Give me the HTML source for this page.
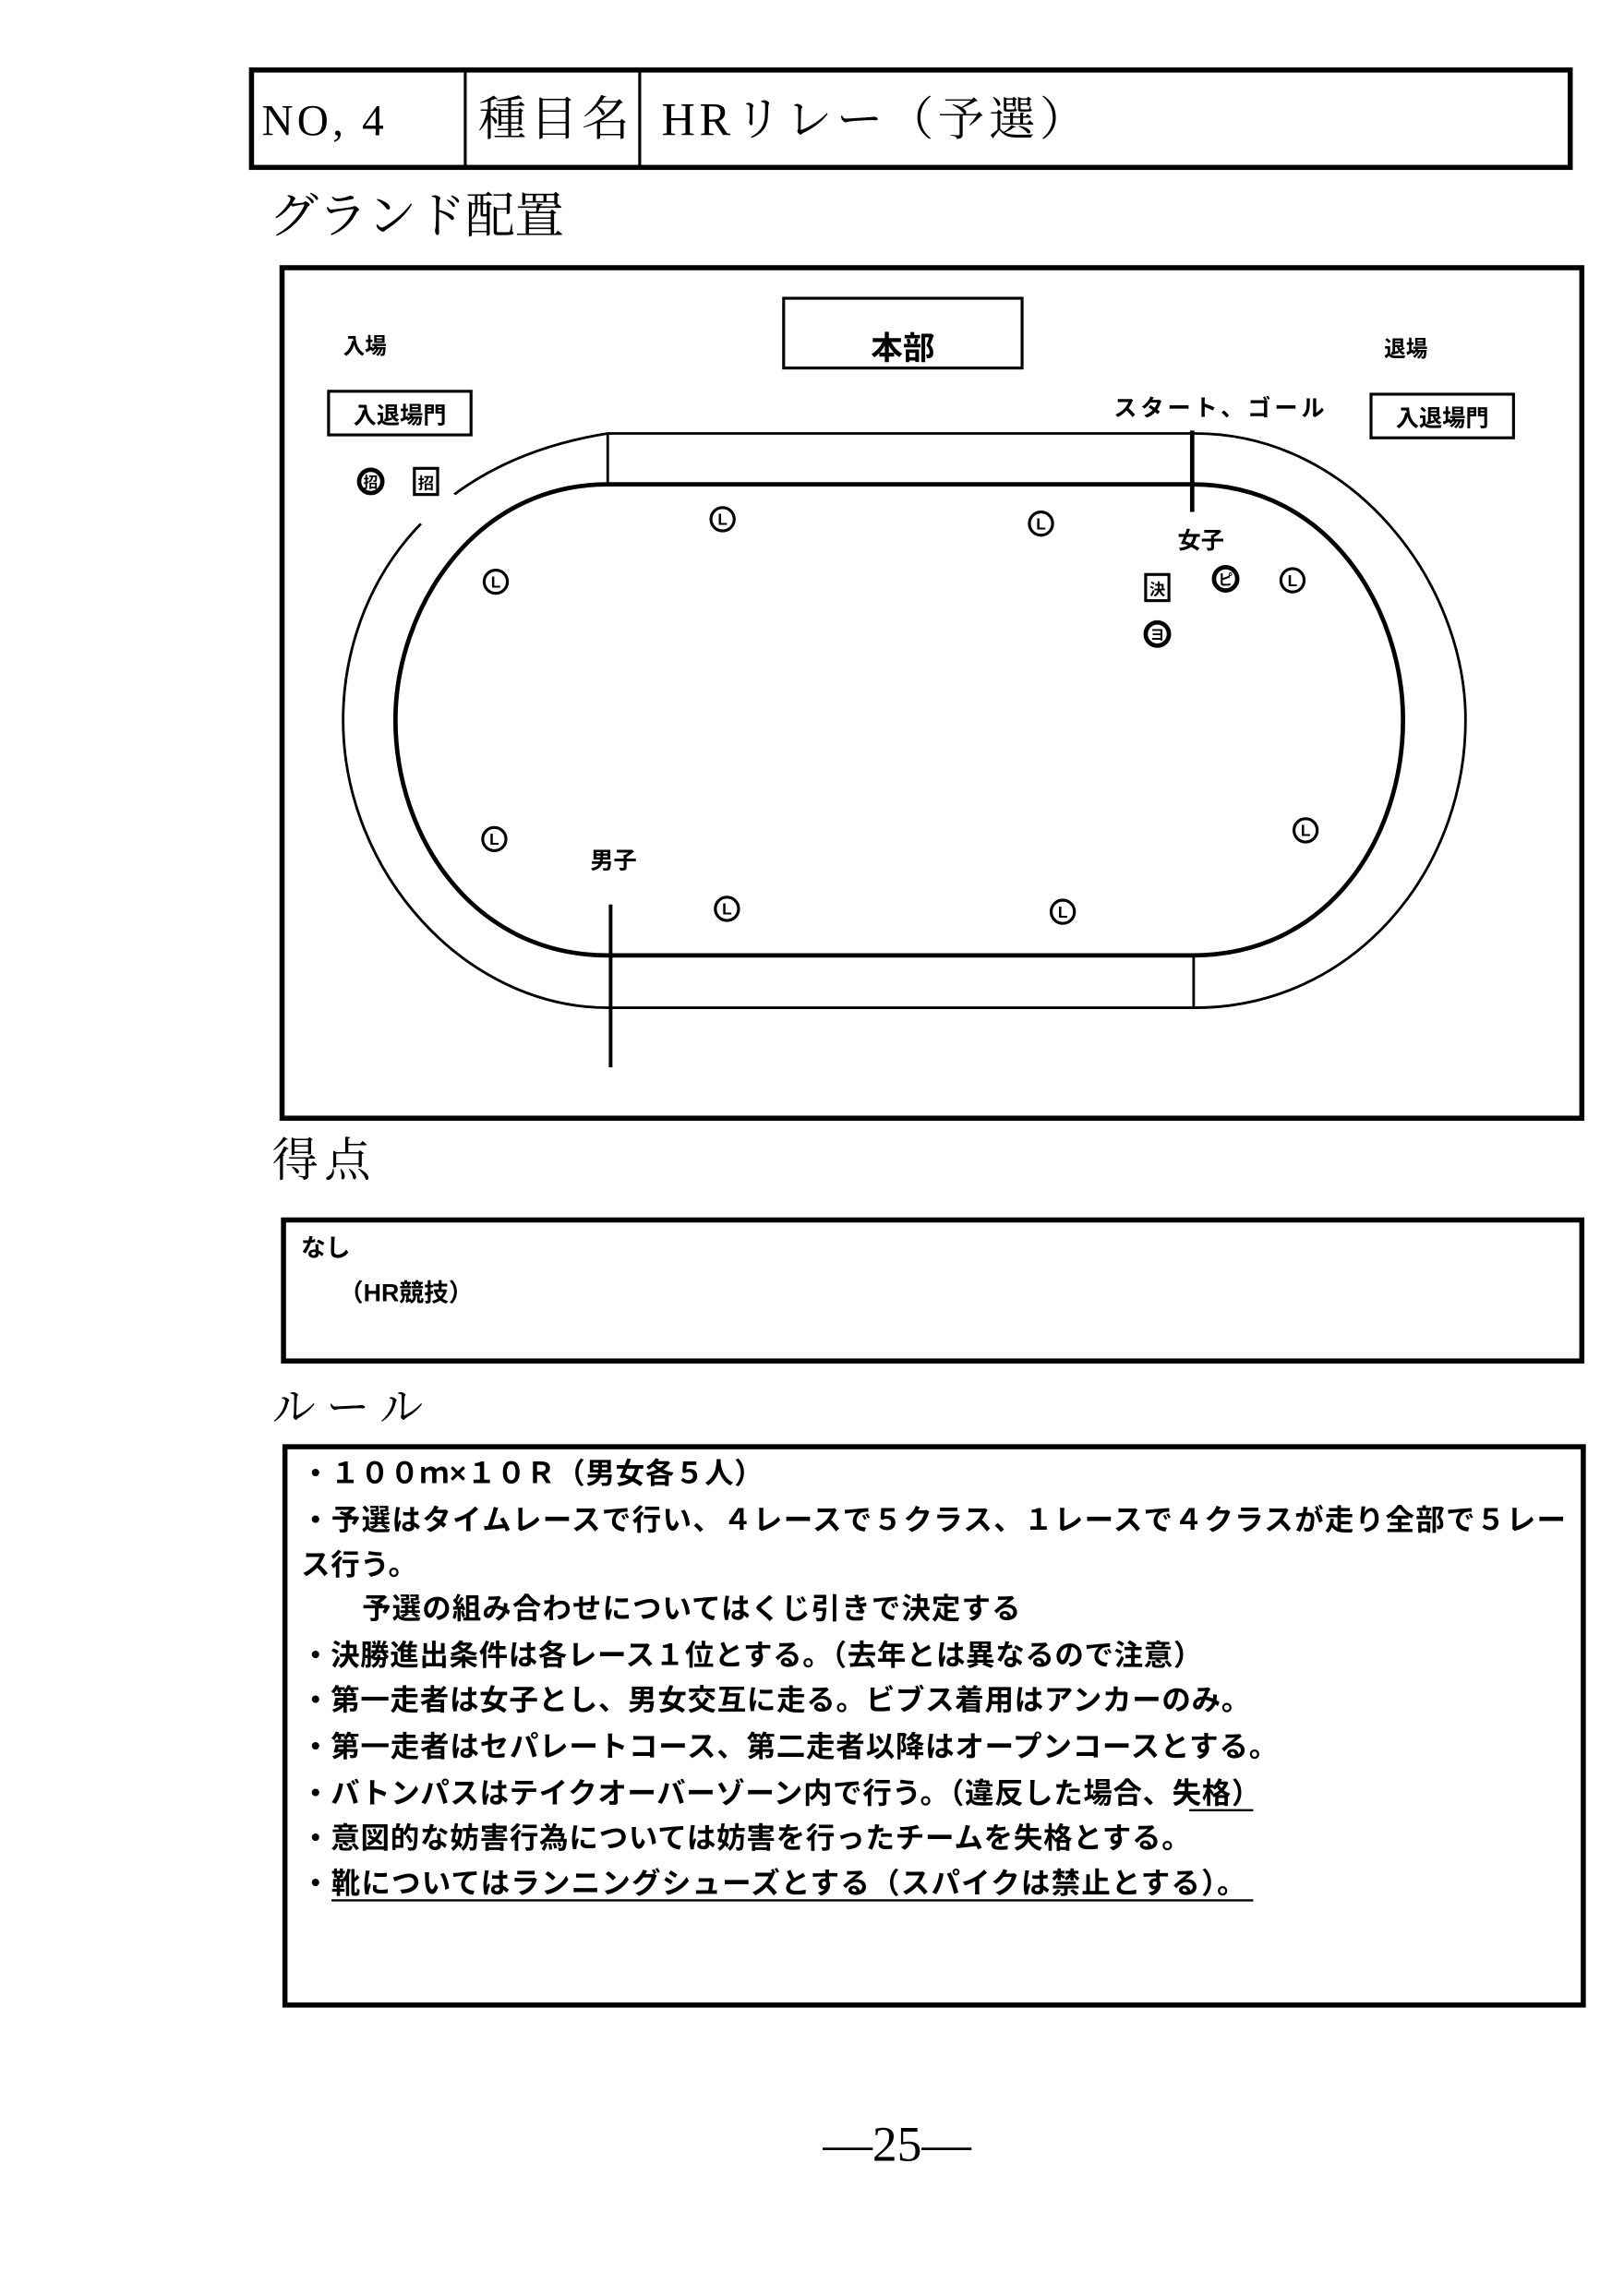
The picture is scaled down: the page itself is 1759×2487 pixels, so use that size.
<!DOCTYPE html>
<html><head><meta charset="utf-8">
<style>
html,body{margin:0;padding:0;background:#fff;}
svg{display:block;}
.g{font-family:"Liberation Sans","Noto Sans CJK JP",sans-serif;font-weight:bold;}
.m{font-family:"Liberation Serif","Noto Serif CJK SC",serif;}
</style></head>
<body>
<svg width="1759" height="2487" viewBox="0 0 1117 1579" xmlns="http://www.w3.org/2000/svg">
<rect x="0" y="0" width="1117" height="1579" fill="#fff"/>
<rect x="173" y="48" width="907" height="67" fill="none" stroke="#000" stroke-width="3.5"/>
<line x1="320" y1="48" x2="320" y2="115" stroke="#000" stroke-width="2"/>
<line x1="440" y1="48" x2="440" y2="115" stroke="#000" stroke-width="2"/>
<text x="180" y="93" class="m" font-size="30" textLength="84">NO, 4</text>
<text x="329" y="93" class="m" font-size="33" textLength="104">種目名</text>
<text x="455" y="93" class="m" font-size="32" textLength="292">HRリレー（予選）</text>
<text x="185" y="160" class="m" font-size="34" textLength="203">グランド配置</text>
<rect x="194" y="184" width="894" height="585" fill="none" stroke="#000" stroke-width="3.5"/>
<rect x="539" y="205" width="164" height="48" fill="none" stroke="#000" stroke-width="2"/>
<text x="621" y="247" class="g" font-size="22" text-anchor="middle">本部</text>
<text x="236" y="243" class="g" font-size="15">入場</text>
<text x="952" y="245" class="g" font-size="15">退場</text>
<rect x="226" y="269" width="98" height="30" fill="none" stroke="#000" stroke-width="2"/>
<text x="275" y="291" class="g" font-size="16" text-anchor="middle">入退場門</text>
<rect x="943" y="271" width="98" height="30" fill="none" stroke="#000" stroke-width="2"/>
<text x="992" y="293" class="g" font-size="16" text-anchor="middle">入退場門</text>
<text x="766" y="286" class="g" font-size="16" textLength="145">スタート、ゴール</text>
<path d="M418,298 L822,298 C930,298 1008,400 1008,495 C1008,600 930,693 822,693 L418,693 C320,693 236,600 236,495 C236,420 280,320 418,298 Z" fill="none" stroke="#000" stroke-width="1.8"/>
<path d="M310,338 L292,362" stroke="#fff" stroke-width="10"/>
<path d="M418,333 L820,333 C915,333 965,420 965,495 C965,575 915,657 820,657 L418,657 C325,657 272,575 272,495 C272,420 325,333 418,333 Z" fill="none" stroke="#000" stroke-width="3"/>
<line x1="418" y1="298" x2="418" y2="333" stroke="#000" stroke-width="1.8"/>
<line x1="820" y1="296" x2="820" y2="352" stroke="#000" stroke-width="3"/>
<line x1="821" y1="657" x2="821" y2="693" stroke="#000" stroke-width="1.8"/>
<line x1="420" y1="622" x2="420" y2="734" stroke="#000" stroke-width="2.5"/>
<text x="826" y="377" class="g" font-size="16" text-anchor="middle">女子</text>
<text x="422" y="597" class="g" font-size="16" text-anchor="middle">男子</text>
<g fill="none" stroke="#000" stroke-width="2">
<circle cx="497" cy="357" r="8"/><circle cx="716" cy="360" r="8"/><circle cx="341" cy="400" r="8"/>
<circle cx="889" cy="399" r="8"/><circle cx="340" cy="577" r="8"/><circle cx="898" cy="571" r="8"/>
<circle cx="500" cy="625" r="8"/><circle cx="731" cy="627" r="8"/>
</g>
<g class="g" font-size="11" text-anchor="middle">
<text x="497" y="361">L</text><text x="716" y="364">L</text><text x="341" y="404">L</text>
<text x="889" y="403">L</text><text x="340" y="581">L</text><text x="898" y="575">L</text>
<text x="500" y="629">L</text><text x="731" y="631">L</text>
</g>
<circle cx="843" cy="398" r="8" fill="none" stroke="#000" stroke-width="3"/>
<text x="843" y="402" class="g" font-size="10" text-anchor="middle">ピ</text>
<circle cx="796" cy="436" r="8" fill="none" stroke="#000" stroke-width="3"/>
<text x="796" y="440" class="g" font-size="10" text-anchor="middle">ヨ</text>
<rect x="788" y="395" width="16" height="18" fill="none" stroke="#000" stroke-width="2"/>
<text x="796" y="409" class="g" font-size="11" text-anchor="middle">決</text>
<circle cx="255" cy="331" r="8" fill="none" stroke="#000" stroke-width="3"/>
<text x="255" y="335" class="g" font-size="10" text-anchor="middle">招</text>
<rect x="285" y="322" width="16" height="18" fill="none" stroke="#000" stroke-width="2"/>
<text x="293" y="336" class="g" font-size="11" text-anchor="middle">招</text>
<text x="187" y="809" class="m" font-size="32" textLength="68">得点</text>
<rect x="195" y="839" width="893" height="97" fill="none" stroke="#000" stroke-width="3.5"/>
<text x="207" y="864" class="g" font-size="17">なし</text>
<text x="233" y="895" class="g" font-size="17">（HR競技）</text>
<text x="187" y="978" class="m" font-size="30" textLength="104">ルール</text>
<rect x="196" y="995" width="893" height="384" fill="none" stroke="#000" stroke-width="3.5"/>
<g class="g" font-size="20">
<text x="207" y="1020" textLength="318">・１００ｍ×１０Ｒ（男女各５人）</text>
<text x="207" y="1052" textLength="870">・予選はタイムレースで行い、４レースで５クラス、１レースで４クラスが走り全部で５レー</text>
<text x="207" y="1083" textLength="80">ス行う。</text>
<text x="249" y="1113" textLength="453">予選の組み合わせについてはくじ引きで決定する</text>
<text x="207" y="1145" textLength="620">・決勝進出条件は各レース１位とする。（去年とは異なるので注意）</text>
<text x="207" y="1176" textLength="653">・第一走者は女子とし、男女交互に走る。ビブス着用はアンカーのみ。</text>
<text x="207" y="1208" textLength="672">・第一走者はセパレートコース、第二走者以降はオープンコースとする。</text>
<text x="207" y="1240" textLength="660">・バトンパスはテイクオーバーゾーン内で行う。（違反した場合、失格）</text>
<text x="207" y="1271" textLength="612">・意図的な妨害行為については妨害を行ったチームを失格とする。</text>
<text x="207" y="1302" textLength="650">・靴についてはランニングシューズとする（スパイクは禁止とする）。</text>
</g>
<line x1="818" y1="1245" x2="862" y2="1245" stroke="#000" stroke-width="1.5"/>
<line x1="228" y1="1307" x2="862" y2="1307" stroke="#000" stroke-width="1.5"/>
<text x="617" y="1486" class="m" font-size="34" text-anchor="middle">―25―</text>
</svg>
</body></html>
